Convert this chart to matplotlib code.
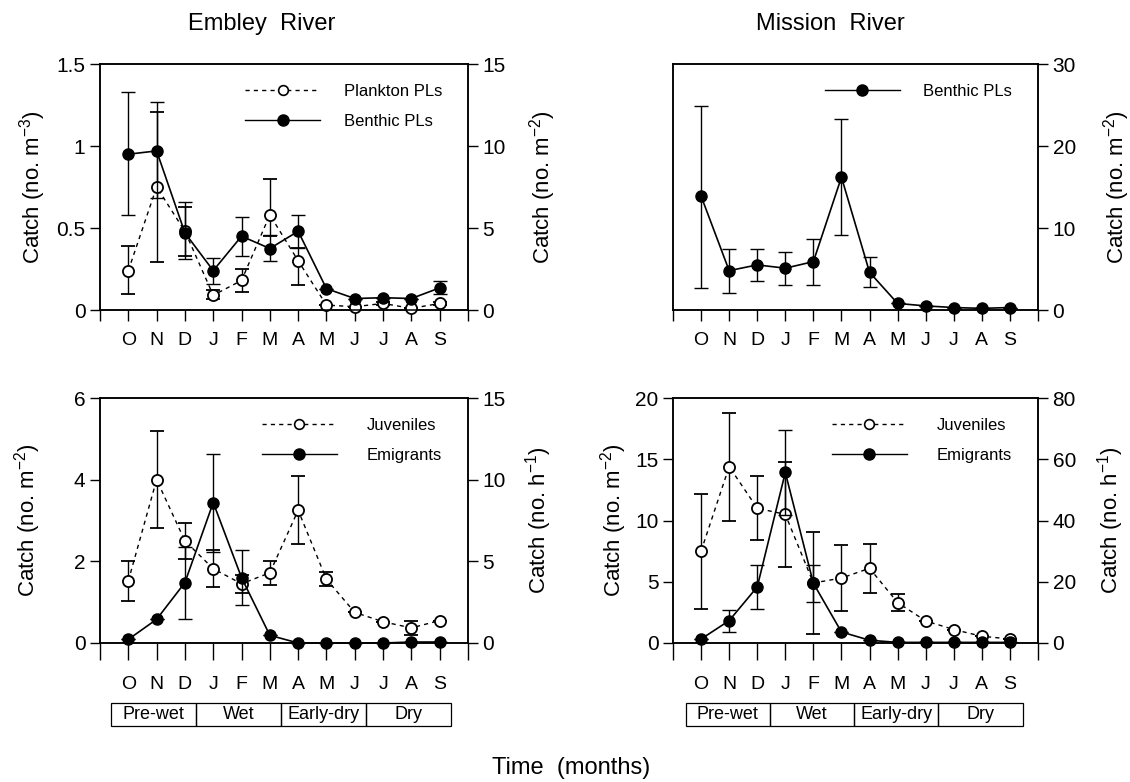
import matplotlib
matplotlib.use("Agg")
import matplotlib.pyplot as plt
from matplotlib.lines import Line2D
from matplotlib.patches import Rectangle
import matplotlib.transforms as mtransforms

plt.rcParams['font.family'] = ['Liberation Sans', 'DejaVu Sans']
plt.rcParams['mathtext.fontset'] = 'custom'
plt.rcParams['mathtext.rm'] = 'Liberation Sans'

months = ['O', 'N', 'D', 'J', 'F', 'M', 'A', 'M', 'J', 'J', 'A', 'S']
x = list(range(12))
seasons = ['Pre-wet', 'Wet', 'Early-dry', 'Dry']

# Embley - plankton PLs (no. m-3), benthic PLs (no. m-2)
emb_plank = [0.24, 0.75, 0.48, 0.09, 0.18, 0.58, 0.30, 0.03, 0.02, 0.04, 0.01, 0.04]
emb_plank_lo = [0.14, 0.46, 0.15, 0.02, 0.07, 0.13, 0.15, 0, 0, 0.01, 0, 0.01]
emb_plank_hi = [0.15, 0.46, 0.15, 0.03, 0.07, 0.22, 0.08, 0, 0, 0.01, 0, 0.01]
emb_benth = [9.5, 9.7, 4.7, 2.4, 4.5, 3.75, 4.8, 1.3, 0.7, 0.75, 0.7, 1.35]
emb_benth_lo = [3.7, 2.85, 1.6, 0.8, 1.2, 0.75, 1.0, 0, 0, 0, 0, 0.4]
emb_benth_hi = [3.8, 3.0, 1.9, 0.8, 1.2, 0.8, 1.0, 0, 0, 0, 0, 0.4]

# Mission - benthic PLs (no. m-2)
mis_benth = [13.9, 4.8, 5.5, 5.1, 5.9, 16.2, 4.6, 0.8, 0.5, 0.3, 0.2, 0.3]
mis_benth_lo = [11.2, 2.7, 2.0, 2.0, 2.8, 7.1, 1.8, 0, 0, 0, 0, 0]
mis_benth_hi = [11.0, 2.6, 1.9, 2.0, 2.7, 7.1, 1.85, 0, 0, 0, 0, 0]

# Embley - juveniles (no. m-2), emigrants (no. h-1)
emb_juv = [1.52, 4.0, 2.5, 1.82, 1.45, 1.72, 3.25, 1.56, 0.75, 0.52, 0.37, 0.55]
emb_juv_err = [0.5, 1.19, 0.45, 0.45, 0.22, 0.3, 0.83, 0.17, 0, 0, 0.18, 0]
emb_emi = [0.22, 1.45, 3.7, 8.6, 4.0, 0.47, 0.0, 0.0, 0.0, 0.0, 0.06, 0.06]
emb_emi_err = [0, 0, 2.2, 3.0, 1.7, 0, 0, 0, 0, 0, 0, 0]

# Mission - juveniles (no. m-2), emigrants (no. h-1)
mis_juv = [7.5, 14.4, 11.0, 10.5, 4.9, 5.3, 6.1, 3.3, 1.8, 1.1, 0.55, 0.33]
mis_juv_err = [4.7, 4.4, 2.6, 4.3, 4.2, 2.7, 2.0, 0.7, 0, 0, 0, 0]
mis_emi = [1.3, 7.3, 18.3, 55.7, 19.5, 3.6, 0.9, 0.2, 0.2, 0.2, 0.2, 0.2]
mis_emi_err = [0, 3.6, 7.3, 14.0, 6.0, 0, 0, 0, 0, 0, 0, 0]

W, H = 1130, 782
fig = plt.figure(figsize=(W / 100, H / 100), dpi=100)


def make_axes(left, top, right, bottom, tick_len=8, pad=8):
    ax = fig.add_axes([left / W, 1 - bottom / H, (right - left) / W, (bottom - top) / H])
    ax.set_xlim(-1, 12)
    ax.set_xticks(range(-1, 13))
    ax.set_xticklabels([''] + months + [''], fontsize=14)
    ax.tick_params(axis='x', direction='out', length=tick_len, width=1, pad=pad)
    ax.tick_params(axis='y', direction='out', length=7, width=1, labelsize=15)
    ax2 = ax.twinx()
    ax2.tick_params(axis='y', direction='out', length=7, width=1, labelsize=15)
    for a in (ax, ax2):
        for s in a.spines.values():
            s.set_linewidth(1.1)
    return ax, ax2


def open_line(ax, vals, lo, hi):
    ax.errorbar(x, vals, yerr=[lo, hi], color='black', lw=1, ls=(0, (3, 3)),
                marker='o', ms=8, mfc='white', mec='black', mew=1.3,
                ecolor='black', elinewidth=1, capsize=5, capthick=1,
                clip_on=False, zorder=3)


def filled_line(ax, vals, lo, hi):
    ax.errorbar(x, vals, yerr=[lo, hi], color='black', lw=1.2, ls='-',
                marker='o', ms=8, mfc='black', mec='black',
                ecolor='black', elinewidth=1, capsize=5, capthick=1,
                clip_on=False, zorder=4)


h_open = Line2D([], [], color='black', lw=1, ls=(0, (3, 3)), marker='o', ms=7,
                mfc='white', mec='black', mew=1.2)
h_fill = Line2D([], [], color='black', lw=1, marker='o', ms=8, mfc='black')


def season_boxes(ax, x0):
    trans = mtransforms.blended_transform_factory(ax.transData, ax.transAxes)
    for i, name in enumerate(seasons):
        r = Rectangle((x0 + 3 * i, -0.339), 3, 0.094, transform=trans,
                      fill=False, lw=0.9, ec='black', clip_on=False)
        ax.add_patch(r)
        ax.text(x0 + 3 * i + 1.5, -0.292, name, transform=trans, ha='center',
                va='center', fontsize=13)


ylab = dict(fontsize=16)
leg = dict(loc='upper right', frameon=False, fontsize=12, handlelength=4.5,
           labelspacing=0.9)

# top left - Embley PLs
ax, ax2 = make_axes(100, 64, 468, 310)
ax.set_ylim(0, 1.5)
ax.set_yticks([0, 0.5, 1, 1.5])
ax.set_yticklabels(['0', '0.5', '1', '1.5'])
ax2.set_ylim(0, 15)
ax2.set_yticks([0, 5, 10, 15])
open_line(ax, emb_plank, emb_plank_lo, emb_plank_hi)
filled_line(ax2, emb_benth, emb_benth_lo, emb_benth_hi)
ax.set_ylabel('Catch (no. m$^{-3}$)', labelpad=6, **ylab)
ax2.set_ylabel('Catch (no. m$^{-2}$)', labelpad=15, **ylab)
ax2.legend([h_open, h_fill], ['Plankton PLs', 'Benthic PLs'], handletextpad=1.4,
           bbox_to_anchor=(0.97, 0.98), **leg)

# top right - Mission PLs
ax, ax2 = make_axes(673, 64, 1038, 310)
ax.set_ylim(0, 30)
ax.tick_params(axis='y', left=False, labelleft=False)
ax2.set_ylim(0, 30)
ax2.set_yticks([0, 10, 20, 30])
filled_line(ax2, mis_benth, mis_benth_lo, mis_benth_hi)
ax2.set_ylabel('Catch (no. m$^{-2}$)', labelpad=18, **ylab)
ax2.legend([h_fill], ['Benthic PLs'], handletextpad=1.4,
           bbox_to_anchor=(0.97, 0.98), **leg)

# bottom left - Embley juveniles / emigrants
ax, ax2 = make_axes(100, 398, 468, 643, tick_len=12, pad=12)
ax.set_ylim(0, 6)
ax.set_yticks([0, 2, 4, 6])
ax2.set_ylim(0, 15)
ax2.set_yticks([0, 5, 10, 15])
open_line(ax, emb_juv, emb_juv_err, emb_juv_err)
filled_line(ax2, emb_emi, emb_emi_err, emb_emi_err)
ax.set_ylabel('Catch (no. m$^{-2}$)', labelpad=22, **ylab)
ax2.set_ylabel('Catch (no. h$^{-1}$)', labelpad=12, **ylab)
ax2.legend([h_open, h_fill], ['Juveniles', 'Emigrants'], handletextpad=1.8,
           bbox_to_anchor=(0.97, 0.98), **leg)
season_boxes(ax, -0.6)

# bottom right - Mission juveniles / emigrants
ax, ax2 = make_axes(673, 398, 1038, 643, tick_len=12, pad=12)
ax.set_ylim(0, 20)
ax.set_yticks([0, 5, 10, 15, 20])
ax2.set_ylim(0, 80)
ax2.set_yticks([0, 20, 40, 60, 80])
open_line(ax, mis_juv, mis_juv_err, mis_juv_err)
filled_line(ax2, mis_emi, mis_emi_err, mis_emi_err)
ax.set_ylabel('Catch (no. m$^{-2}$)', labelpad=4, **ylab)
ax2.set_ylabel('Catch (no. h$^{-1}$)', labelpad=14, **ylab)
ax2.legend([h_open, h_fill], ['Juveniles', 'Emigrants'], handletextpad=1.8,
           bbox_to_anchor=(0.97, 0.98), **leg)
season_boxes(ax, -0.55)

fig.text(262 / W, 1 - 24 / H, 'Embley  River', ha='center', va='center', fontsize=17)
fig.text(830 / W, 1 - 24 / H, 'Mission  River', ha='center', va='center', fontsize=17)
fig.text(571 / W, 1 - 768 / H, 'Time  (months)', ha='center', va='center', fontsize=17)

fig.savefig('out.png', dpi=100)
